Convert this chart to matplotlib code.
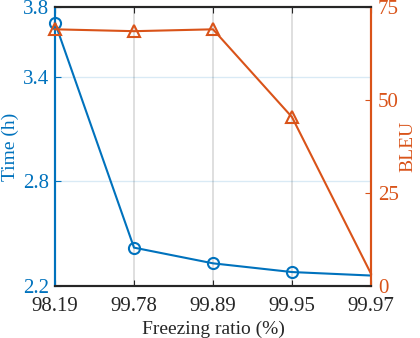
import matplotlib.pyplot as plt

plt.rcParams['font.family'] = ['Liberation Serif', 'DejaVu Serif']

# data
ratios = ['98.19', '99.78', '99.89', '99.95', '99.97']
time_h = [3.71, 2.42, 2.33, 2.28, 2.26]
bleu = [69.0, 68.5, 69.0, 45.4, 3.3]

blue = '#0072BD'
orange = '#D95319'
dark = '#262626'

x = list(range(len(ratios)))

fig = plt.figure(figsize=(4.2, 3.38), dpi=100)
ax = fig.add_axes([55 / 420, 1 - 286 / 338, 316 / 420, 279 / 338])
ax2 = ax.twinx()

# time on the left
ax.plot(x, time_h, color=blue, lw=1.5, marker='o', ms=8, mfc='none',
        mew=1.5, markevery=[0, 1, 2, 3], clip_on=False, zorder=3)
ax.set_ylim(2.2, 3.8)
ax.set_yticks([2.2, 2.8, 3.4, 3.8])
ax.set_ylabel('Time (h)', color=blue, fontsize=14, labelpad=3)
ax.tick_params(axis='y', colors=blue, direction='in', labelsize=15, length=4,
               pad=4)
ax.grid(axis='y', color=blue, alpha=0.15, lw=1)

ax.set_xlim(0, len(ratios) - 1)
ax.set_xticks(x)
ax.set_xticklabels(ratios)
ax.set_xlabel('Freezing ratio (%)', color=dark, fontsize=14, labelpad=3)
ax.tick_params(axis='x', colors=dark, direction='in', labelsize=15, length=4,
               top=True, pad=8)
ax.grid(axis='x', color='#d9d9d9', lw=1.2)
ax.set_axisbelow(True)

# bleu on the right
ax2.plot(x, bleu, color=orange, lw=1.5, marker='^', ms=9, mfc='none',
         mew=1.5, markevery=[0, 1, 2, 3], clip_on=False, zorder=3)
ax2.set_ylim(0, 75)
ax2.set_yticks([0, 25, 50, 75])
ax2.set_ylabel('BLEU', color=orange, fontsize=14, labelpad=0)
ax2.tick_params(axis='y', colors=orange, direction='in', labelsize=15, length=4,
                pad=5)

for a in (ax, ax2):
    a.spines['left'].set_color(blue)
    a.spines['right'].set_color(orange)
    a.spines['top'].set_color(dark)
    a.spines['bottom'].set_color(dark)
    for s in a.spines.values():
        s.set_linewidth(1.5)

fig.savefig('out.png', dpi=100)
